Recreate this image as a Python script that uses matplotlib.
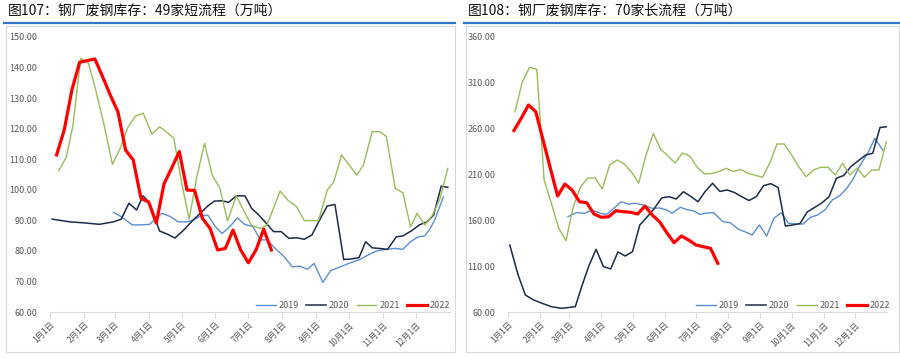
import numpy as np
import matplotlib
matplotlib.use("Agg")
from matplotlib import pyplot as plt
from matplotlib.lines import Line2D
from matplotlib.patches import Rectangle

plt.rcParams['font.family'] = ['Noto Sans CJK SC', 'DejaVu Sans']

# month ticks (day of year) and labels
month_days = [0, 31, 59, 90, 120, 151, 181, 212, 243, 273, 304, 334]
month_labels = ['%d月1日' % m for m in range(1, 13)]

years = ['2019', '2020', '2021', '2022']
colors = ['#5B8ED4', '#1C2B48', '#9BBB59', '#FF0000']
widths = [1.0, 1.1, 1.0, 2.3]

# ---- 图107: 49家短流程 ----
l_days_2019 = [58, 65, 75, 82, 91, 102, 110, 117, 125, 131, 137, 144, 151, 157, 164,
               171, 178, 185, 192, 198, 207, 214, 221, 228, 235, 241, 249, 256, 265,
               274, 283, 290, 298, 307, 315, 322, 329, 336, 342, 347, 351, 359]
l_2019 = [92.6, 91.2, 88.5, 88.5, 88.7, 92.3, 91.2, 89.5, 89.5, 90.1, 91.4, 91.7, 87.9,
          85.7, 87.9, 90.8, 88.6, 88.0, 83.6, 83.6, 80.3, 78.0, 74.8, 75.0, 74.0, 75.9,
          69.7, 73.5, 74.8, 76.1, 77.2, 78.6, 80.0, 80.5, 80.8, 80.5, 83.0, 84.6, 84.9,
          87.4, 90.1, 97.7]
l_days_2020 = [2, 18, 30, 45, 58, 65, 72, 79, 85, 91, 100, 107, 114, 122, 129, 137, 144,
               150, 157, 163, 170, 178, 184, 190, 198, 204, 211, 218, 225, 232, 239, 246,
               253, 260, 268, 274, 282, 288, 294, 301, 308, 316, 322, 330, 337, 344, 350,
               357, 363]
l_2020 = [90.4, 89.5, 89.2, 88.7, 89.5, 90.4, 95.6, 93.4, 98.0, 95.6, 86.5, 85.5, 84.2,
          86.8, 89.5, 92.3, 94.7, 96.3, 96.4, 95.9, 98.0, 98.0, 93.9, 91.9, 88.8, 86.3,
          86.3, 84.1, 84.3, 83.8, 85.2, 90.1, 94.7, 95.2, 77.2, 77.3, 77.8, 83.0, 81.0,
          80.8, 80.5, 84.6, 84.9, 86.6, 88.5, 89.5, 91.7, 101.2, 100.8]
l_days_2021 = [8, 15, 21, 28, 35, 41, 49, 57, 64, 71, 78, 85, 93, 100, 107, 113, 120, 127,
               134, 141, 148, 155, 162, 170, 177, 184, 192, 198, 210, 217, 225, 232, 239,
               245, 253, 259, 266, 273, 280, 286, 294, 301, 307, 315, 322, 329, 335, 342,
               349, 356, 363]
l_2021 = [106.2, 110.8, 121.2, 143.0, 141.4, 133.7, 121.8, 108.3, 113.5, 120.4, 124.1,
          125.1, 118.2, 120.6, 118.7, 116.9, 102.5, 90.4, 104.3, 115.2, 104.8, 100.6, 89.8,
          98.0, 93.0, 88.3, 87.3, 88.5, 99.6, 96.6, 94.5, 89.9, 89.9, 89.9, 99.9, 102.6,
          111.4, 108.1, 104.8, 108.1, 119.0, 119.0, 117.4, 100.5, 99.0, 87.9, 92.3, 88.5,
          91.7, 97.2, 107.0]
l_days_2022 = list(range(6, 203, 7))
l_2022 = [111.4, 119.6, 132.7, 141.7, 142.3, 142.8, 137.0, 131.0, 125.5, 113.0, 109.7,
          97.2, 96.0, 89.1, 101.9, 107.1, 112.5, 99.9, 99.8, 90.7, 87.4, 80.3, 80.8, 86.8,
          80.3, 76.1, 80.3, 87.1, 80.3]

# ---- 图108: 70家长流程 ----
r_days_2019 = [58, 66, 74, 81, 89, 95, 102, 109, 116, 123, 130, 139, 146, 153, 158, 166,
               172, 179, 185, 191, 198, 207, 214, 222, 228, 235, 242, 249, 256, 263, 270,
               277, 284, 291, 298, 305, 312, 319, 326, 332, 339, 347, 353, 361]
r_2019 = [164.0, 168.3, 167.7, 171.3, 167.7, 166.4, 173.1, 180.3, 177.8, 178.6, 176.7,
          173.1, 173.5, 171.3, 167.7, 174.2, 171.8, 170.2, 166.4, 168.0, 168.3, 158.5,
          157.4, 150.2, 147.6, 144.0, 154.9, 142.9, 162.2, 168.3, 156.8, 156.0, 156.0,
          163.3, 165.8, 171.3, 182.2, 186.6, 194.9, 204.8, 220.4, 234.9, 249.5, 236.0]
r_days_2020 = [2, 10, 17, 25, 33, 42, 52, 65] + list(range(71, 366, 7))
r_2020 = [133.1, 100.4, 78.5, 73.1, 69.5, 65.8, 64.0, 65.8,
          87.3, 110.2, 128.4, 109.6, 106.9, 125.5, 121.1, 125.8, 154.9, 163.6, 172.9,
          184.4, 185.8, 183.3, 191.2, 186.2, 180.3, 191.7, 200.4, 191.5, 193.1, 190.4,
          185.8, 181.6, 185.8, 197.8, 200.0, 195.8, 153.8, 154.9, 156.5, 169.1, 174.0,
          178.9, 185.7, 205.9, 208.9, 218.7, 224.9, 231.1, 233.2, 261.3, 262.1]
r_days_2021 = list(range(7, 365, 7))
r_2021 = [278.5, 310.9, 326.9, 324.8, 204.0, 178.6, 151.6, 137.8, 174.5, 196.4, 206.2,
          206.2, 194.2, 220.4, 225.8, 221.5, 212.7, 200.7, 231.3, 254.7, 237.8, 230.2,
          222.5, 233.5, 230.2, 218.2, 210.6, 211.1, 213.1, 216.8, 213.3, 215.5, 211.3,
          209.1, 207.0, 222.5, 243.3, 243.3, 231.3, 218.2, 207.6, 214.9, 217.9, 217.9,
          209.5, 222.2, 209.5, 217.1, 207.0, 214.9, 214.9, 245.8]
r_days_2022 = list(range(6, 203, 7))
r_2022 = [258.0, 271.3, 285.8, 278.5, 247.6, 216.8, 186.6, 199.6, 192.9, 180.3, 179.2,
          166.9, 163.3, 163.9, 170.5, 169.4, 168.8, 166.9, 175.6, 165.8, 158.5, 146.5,
          135.6, 142.9, 138.5, 133.1, 131.2, 129.5, 113.1]

W, H = 900, 358
fig = plt.figure(figsize=(9, 3.58), dpi=100)


def fx(px):
    return px / W


def fy(py):
    return 1 - py / H


# panel frames, titles and blue rules
for x0, x1, title in [(6, 455, '图107：钢厂废钢库存：49家短流程（万吨）'),
                      (466, 899, '图108：钢厂废钢库存：70家长流程（万吨）')]:
    fig.patches.append(Rectangle((fx(x0), fy(352)), fx(x1 - x0), (352 - 26) / H,
                                 transform=fig.transFigure, fill=False,
                                 edgecolor='#D9D9D9', lw=0.8))
    fig.lines.append(Line2D([fx(x0 - 2), fx(x1)], [fy(23), fy(23)],
                            transform=fig.transFigure, color='#2F78C4', lw=1.6))
    fig.text(fx(x0 + 2), fy(11), title, fontsize=10, va='center', ha='left',
             color='#111111')


def draw(ax, days_list, vals_list, ylim, yticks, legend_right):
    for d, v, c, w, lab in zip(days_list, vals_list, colors, widths, years):
        ax.plot(d, v, color=c, lw=w, label=lab, solid_joinstyle='round')
    ax.set_xlim(0, 365)
    ax.set_ylim(*ylim)
    ax.set_yticks(yticks)
    ax.set_yticklabels(['%.2f' % t for t in yticks], fontsize=6.5, color='#595959')
    ax.set_xticks(month_days)
    ax.set_xticklabels(month_labels, rotation=45, ha='right', rotation_mode='anchor',
                       fontsize=6, color='#595959')
    for s in ['top', 'right', 'left']:
        ax.spines[s].set_visible(False)
    ax.spines['bottom'].set_color('#D9D9D9')
    ax.tick_params(axis='y', length=0, pad=9)
    ax.tick_params(axis='x', length=4, color='#D9D9D9', pad=2)
    leg = ax.legend(ncol=4, frameon=False, fontsize=6.5, handlelength=2.2,
                    handletextpad=0.3, columnspacing=0.8, loc='center right',
                    bbox_to_anchor=(legend_right, fy(306)),
                    bbox_transform=fig.transFigure)
    for t in leg.get_texts():
        t.set_color('#595959')


ax1 = fig.add_axes([fx(50), fy(312), fx(400), (312 - 37) / H])
draw(ax1, [l_days_2019, l_days_2020, l_days_2021, l_days_2022],
     [l_2019, l_2020, l_2021, l_2022], (60, 150), list(range(60, 151, 10)), fx(458))

ax2 = fig.add_axes([fx(507.7), fy(312), fx(379.6), (312 - 37) / H])
draw(ax2, [r_days_2019, r_days_2020, r_days_2021, r_days_2022],
     [r_2019, r_2020, r_2021, r_2022], (60, 360), list(range(60, 361, 50)), fx(898))

fig.savefig('out.png', dpi=100)
